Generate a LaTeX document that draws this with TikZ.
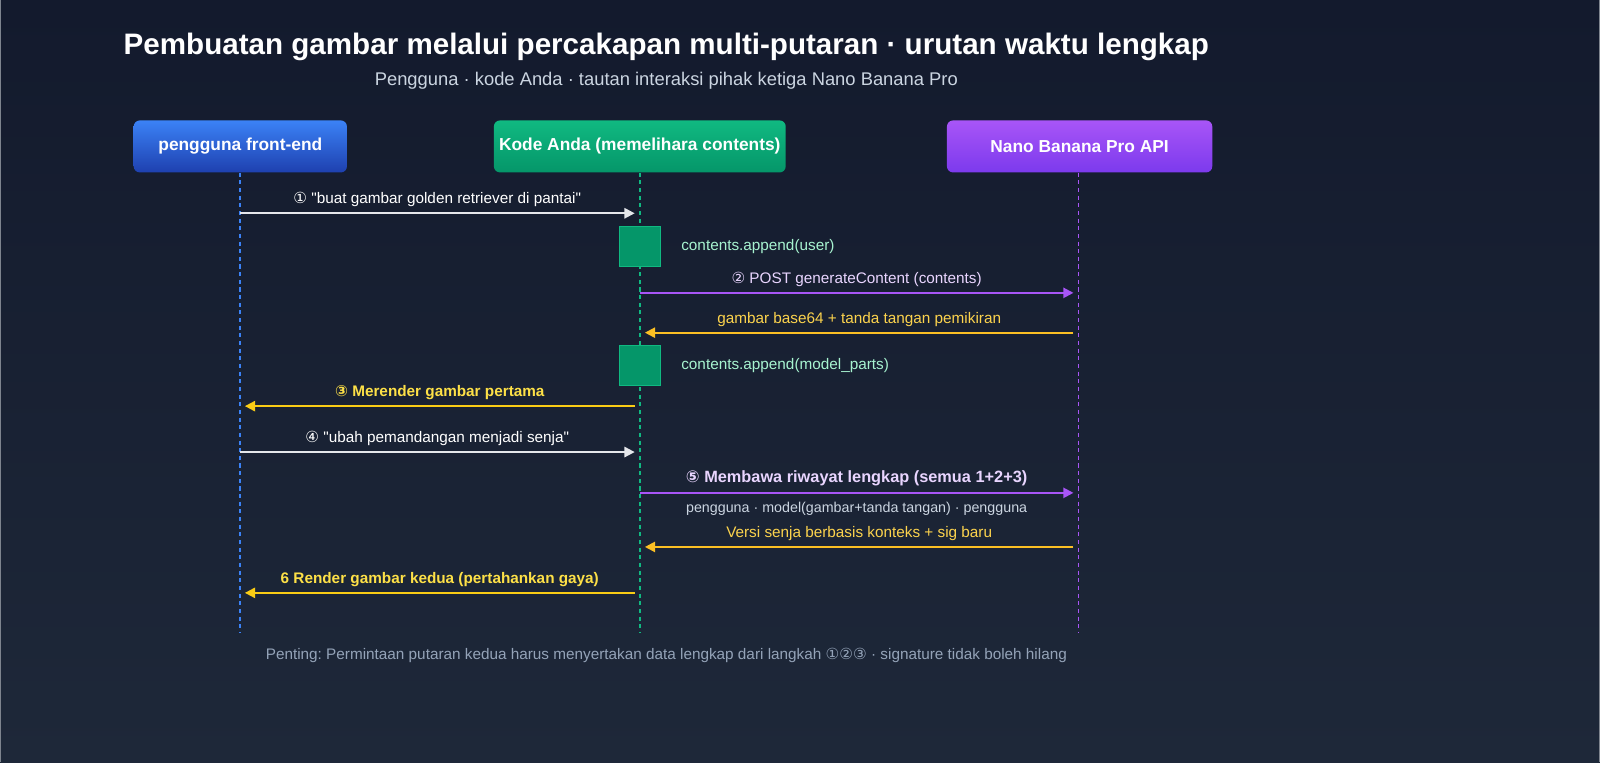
\documentclass[tikz,border=0pt]{standalone}
\usepackage{fontspec}
\setmainfont{Liberation Sans}
\newfontfamily\symfont{DejaVu Sans}
\usepackage{tikz}
\usetikzlibrary{arrows.meta,positioning}
\definecolor{bgtop}{HTML}{131A2D}
\definecolor{bgbot}{HTML}{1E2839}
\definecolor{edge}{HTML}{7E848E}
\definecolor{blueA}{HTML}{3B82F6}
\definecolor{blueB}{HTML}{1E40AF}
\definecolor{greenA}{HTML}{10B981}
\definecolor{greenB}{HTML}{059669}
\definecolor{purpleA}{HTML}{A855F7}
\definecolor{purpleB}{HTML}{7C3AED}
\definecolor{msgwhite}{HTML}{E5E7EB}
\definecolor{lavender}{HTML}{E9D5FF}
\definecolor{amber}{HTML}{FBBF24}
\definecolor{amberlbl}{HTML}{FCD34D}
\definecolor{yellowA}{HTML}{FACC15}
\definecolor{yellowlbl}{HTML}{FDE047}
\definecolor{mint}{HTML}{A7F3D0}
\definecolor{subgray}{HTML}{CBD5E1}
\definecolor{footgray}{HTML}{94A3B8}
\newcommand{\cnum}[1]{{\symfont #1}}
\newcommand{\qt}{\textquotedbl}
\frenchspacing

\begin{document}
\begin{tikzpicture}[x=1pt,y=-1pt,
  actor/.style={rounded corners=6pt,minimum height=51pt,inner sep=0pt,text=white,font=\fontsize{17}{20}\selectfont\bfseries},
  life/.style={dash pattern=on 4pt off 3.5pt,line width=1.5pt},
  msg/.style={line width=2pt,-{Triangle[length=10pt,width=10pt]}},
  lbl/.style={font=\fontsize{15}{18}\selectfont,above=2pt},
  act/.style={fill=greenB,draw=greenA,line width=1pt,minimum width=40pt,minimum height=39pt,inner sep=0pt},
  note/.style={right=20pt of #1,inner sep=0pt,text=mint,font=\fontsize{15}{18}\selectfont}]
\shade[top color=bgtop,bottom color=bgbot] (0,0) rectangle (1568,747);
\useasboundingbox (0,0) rectangle (1568,747);
\draw[edge,line width=1.2pt] (0.6,0) -- (0.6,747) (1567.4,0) -- (1567.4,747);

\node[text=white,font=\fontsize{29}{34}\selectfont\bfseries] (title) at (653,46) {Pembuatan gambar melalui percakapan multi-putaran · urutan waktu lengkap};
\node[text=subgray,font=\fontsize{18}{21}\selectfont] (subtitle) at (653,79) {Pengguna · kode Anda · tautan interaksi pihak ketiga Nano Banana Pro};

\node[actor,top color=blueA,bottom color=blueB,minimum width=209pt] (user) at (235.5,143.5) {pengguna front-end};
\node[actor,top color=greenA,bottom color=greenB,minimum width=286pt] (code) at (627,143.5) {Kode Anda (memelihara contents)};
\node[actor,top color=purpleA,bottom color=purpleB,minimum width=260pt] (api) at (1058,143.5) {Nano Banana Pro API};

\coordinate (userend) at (235,620);
\coordinate (codeend) at (627,620);
\coordinate (apiend) at (1057,620);
\draw[life,blueA] (user.south -| userend) -- (userend);
\draw[life,greenA] (code.south -| codeend) -- (codeend);
\draw[life,purpleA] (api.south -| apiend) -- (apiend);

\coordinate (u1) at (235,209);
\coordinate (c1) at (622,209);
\draw[msg,msgwhite] (u1) -- node[lbl,text=white] {\cnum{①} \qt buat gambar golden retriever di pantai\qt} (c1);

\node[act] (act1) at (627,241.5) {};
\node[note=act1] (note1) {contents.append(user)};

\coordinate (c2) at (627,287);
\coordinate (a2) at (1052,287);
\draw[msg,purpleA] (c2) -- node[lbl,text=lavender] {\cnum{②} POST generateContent (contents)} (a2);

\coordinate (a3) at (1052,326);
\coordinate (c3) at (632,326);
\draw[msg,amber] (a3) -- node[lbl,text=amberlbl] {gambar base64 + tanda tangan pemikiran} (c3);

\node[act] (act2) at (627,358.5) {};
\node[note=act2] (note2) {contents.append(model\_parts)};

\coordinate (c4) at (622,398);
\coordinate (u4) at (240,398);
\draw[msg,yellowA] (c4) -- node[lbl,text=yellowlbl,font=\fontsize{15}{18}\selectfont\bfseries] {\cnum{③} Merender gambar pertama} (u4);

\coordinate (u5) at (235,443);
\coordinate (c5) at (622,443);
\draw[msg,msgwhite] (u5) -- node[lbl,text=white] {\cnum{④} \qt ubah pemandangan menjadi senja\qt} (c5);

\coordinate (c6) at (627,483);
\coordinate (a6) at (1052,483);
\draw[msg,purpleA] (c6) -- node[lbl,text=lavender,font=\fontsize{16}{19}\selectfont\bfseries] {\cnum{⑤} Membawa riwayat lengkap (semua 1+2+3)}
  node[below=5pt,text=subgray,font=\fontsize{14}{17}\selectfont] {pengguna · model(gambar+tanda tangan) · pengguna} (a6);

\coordinate (a7) at (1052,536);
\coordinate (c7) at (632,536);
\draw[msg,amber] (a7) -- node[lbl,text=amberlbl] {Versi senja berbasis konteks + sig baru} (c7);

\coordinate (c8) at (622,581);
\coordinate (u8) at (240,581);
\draw[msg,yellowA] (c8) -- node[lbl,text=yellowlbl,font=\fontsize{15}{18}\selectfont\bfseries] {6 Render gambar kedua (pertahankan gaya)} (u8);

\node[text=footgray,font=\fontsize{15}{18}\selectfont] (footer) at (653,642) {Penting: Permintaan putaran kedua harus menyertakan data lengkap dari langkah \cnum{①②③} · signature tidak boleh hilang};
\end{tikzpicture}
\end{document}
